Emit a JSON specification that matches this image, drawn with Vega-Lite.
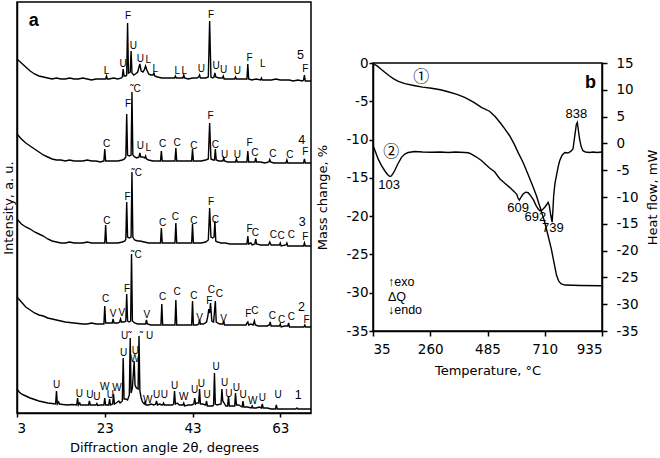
{
"$schema":"https://vega.github.io/schema/vega-lite/v6.json",
"padding":{"left":1,"top":1,"right":0,"bottom":0},
"spacing":0,
"config":{"view":{"stroke":"black","strokeWidth":1.5},"axis":{"grid":false,"domainColor":"black","domainWidth":1.5,"tickColor":"black","tickWidth":1.5,"labelColor":"black","titleColor":"black","labelFont":"DejaVu Sans","titleFont":"DejaVu Sans","labelFontSize":13.5,"titleFontSize":13,"titleFontWeight":"normal"}},
"datasets":{
"xrd":[
{"s":5,"x":3,"y":354},{"s":5,"x":3.5,"y":352},{"s":5,"x":4,"y":350},{"s":5,"x":5,"y":346},{"s":5,"x":6,"y":342},{"s":5,"x":7,"y":339},{"s":5,"x":8,"y":337},{"s":5,"x":9,"y":336},{"s":5,"x":10,"y":335},{"s":5,"x":11,"y":334},{"s":5,"x":12,"y":335},{"s":5,"x":13,"y":334},{"s":5,"x":14,"y":334},{"s":5,"x":15,"y":335},{"s":5,"x":16,"y":334},{"s":5,"x":17,"y":334},{"s":5,"x":18,"y":335},{"s":5,"x":19,"y":334},{"s":5,"x":20,"y":333},{"s":5,"x":21,"y":334},{"s":5,"x":22,"y":334},{"s":5,"x":23.2,"y":334},{"s":5,"x":23.4,"y":337},{"s":5,"x":23.6,"y":334},{"s":5,"x":24,"y":334},{"s":5,"x":25,"y":335},{"s":5,"x":26,"y":334},{"s":5,"x":26.8,"y":335},{"s":5,"x":27,"y":336},{"s":5,"x":27.2,"y":344},{"s":5,"x":27.4,"y":337},{"s":5,"x":27.8,"y":337},{"s":5,"x":28,"y":338},{"s":5,"x":28.2,"y":390},{"s":5,"x":28.4,"y":340},{"s":5,"x":28.8,"y":341},{"s":5,"x":29,"y":362},{"s":5,"x":29.2,"y":340},{"s":5,"x":29.6,"y":338},{"s":5,"x":30,"y":339},{"s":5,"x":30.5,"y":341},{"s":5,"x":31,"y":349},{"s":5,"x":31.3,"y":342},{"s":5,"x":31.7,"y":341},{"s":5,"x":32,"y":343},{"s":5,"x":32.3,"y":347},{"s":5,"x":32.6,"y":343},{"s":5,"x":33,"y":339},{"s":5,"x":33.5,"y":338},{"s":5,"x":34,"y":338},{"s":5,"x":34.2,"y":340},{"s":5,"x":34.4,"y":337},{"s":5,"x":35,"y":336},{"s":5,"x":36,"y":335},{"s":5,"x":37,"y":335},{"s":5,"x":38,"y":335},{"s":5,"x":38.9,"y":335},{"s":5,"x":39.1,"y":337},{"s":5,"x":39.3,"y":335},{"s":5,"x":40,"y":335},{"s":5,"x":40.8,"y":335},{"s":5,"x":41,"y":338},{"s":5,"x":41.2,"y":335},{"s":5,"x":42,"y":334},{"s":5,"x":43,"y":335},{"s":5,"x":44,"y":335},{"s":5,"x":44.4,"y":336},{"s":5,"x":44.6,"y":338},{"s":5,"x":44.8,"y":335},{"s":5,"x":45.5,"y":335},{"s":5,"x":46,"y":335},{"s":5,"x":46.6,"y":336},{"s":5,"x":46.9,"y":392},{"s":5,"x":47.2,"y":336},{"s":5,"x":47.6,"y":335},{"s":5,"x":47.9,"y":336},{"s":5,"x":48.1,"y":340},{"s":5,"x":48.3,"y":336},{"s":5,"x":49,"y":335},{"s":5,"x":49.8,"y":335},{"s":5,"x":50,"y":337},{"s":5,"x":50.2,"y":334},{"s":5,"x":51,"y":334},{"s":5,"x":52,"y":334},{"s":5,"x":52.6,"y":334},{"s":5,"x":52.8,"y":336},{"s":5,"x":53,"y":334},{"s":5,"x":54,"y":334},{"s":5,"x":55,"y":334},{"s":5,"x":55.4,"y":334},{"s":5,"x":55.6,"y":349},{"s":5,"x":55.8,"y":334},{"s":5,"x":56.5,"y":333},{"s":5,"x":57.5,"y":334},{"s":5,"x":58.5,"y":333},{"s":5,"x":58.7,"y":335},{"s":5,"x":58.9,"y":333},{"s":5,"x":60,"y":333},{"s":5,"x":61,"y":333},{"s":5,"x":62,"y":334},{"s":5,"x":63,"y":333},{"s":5,"x":64,"y":333},{"s":5,"x":65,"y":333},{"s":5,"x":66,"y":332},{"s":5,"x":67,"y":333},{"s":5,"x":68,"y":332},{"s":5,"x":68.3,"y":333},{"s":5,"x":68.5,"y":338},{"s":5,"x":68.7,"y":332},{"s":5,"x":69,"y":332},{"s":5,"x":70,"y":332},
{"s":4,"x":3,"y":279},{"s":4,"x":4,"y":274},{"s":4,"x":5,"y":270},{"s":4,"x":6,"y":267},{"s":4,"x":7,"y":264},{"s":4,"x":8,"y":261},{"s":4,"x":9,"y":258},{"s":4,"x":10,"y":256},{"s":4,"x":11,"y":254},{"s":4,"x":12,"y":253},{"s":4,"x":13,"y":253},{"s":4,"x":14,"y":252},{"s":4,"x":15,"y":253},{"s":4,"x":16,"y":252},{"s":4,"x":17,"y":252},{"s":4,"x":18,"y":252},{"s":4,"x":19,"y":253},{"s":4,"x":20,"y":252},{"s":4,"x":21,"y":252},{"s":4,"x":22,"y":251},{"s":4,"x":22.8,"y":252},{"s":4,"x":23,"y":264},{"s":4,"x":23.2,"y":252},{"s":4,"x":24,"y":252},{"s":4,"x":25,"y":252},{"s":4,"x":26,"y":252},{"s":4,"x":27,"y":253},{"s":4,"x":27.5,"y":254},{"s":4,"x":27.8,"y":256},{"s":4,"x":28,"y":299},{"s":4,"x":28.2,"y":258},{"s":4,"x":28.6,"y":257},{"s":4,"x":29,"y":258},{"s":4,"x":29.2,"y":321},{"s":4,"x":29.4,"y":258},{"s":4,"x":29.8,"y":256},{"s":4,"x":30.3,"y":255},{"s":4,"x":30.8,"y":256},{"s":4,"x":31,"y":260},{"s":4,"x":31.2,"y":256},{"s":4,"x":31.7,"y":256},{"s":4,"x":32.1,"y":255},{"s":4,"x":32.3,"y":257},{"s":4,"x":32.5,"y":254},{"s":4,"x":33,"y":253},{"s":4,"x":34,"y":252},{"s":4,"x":35,"y":252},{"s":4,"x":35.7,"y":252},{"s":4,"x":35.9,"y":262},{"s":4,"x":36.1,"y":252},{"s":4,"x":37,"y":252},{"s":4,"x":38,"y":252},{"s":4,"x":39,"y":252},{"s":4,"x":39.2,"y":265},{"s":4,"x":39.4,"y":252},{"s":4,"x":40,"y":252},{"s":4,"x":41,"y":252},{"s":4,"x":42,"y":252},{"s":4,"x":42.8,"y":252},{"s":4,"x":43,"y":264},{"s":4,"x":43.2,"y":252},{"s":4,"x":44,"y":252},{"s":4,"x":45,"y":252},{"s":4,"x":46,"y":253},{"s":4,"x":46.6,"y":254},{"s":4,"x":46.9,"y":290},{"s":4,"x":47.2,"y":254},{"s":4,"x":47.7,"y":253},{"s":4,"x":48,"y":253},{"s":4,"x":48.2,"y":264},{"s":4,"x":48.4,"y":253},{"s":4,"x":49,"y":252},{"s":4,"x":49.9,"y":252},{"s":4,"x":50.1,"y":255},{"s":4,"x":50.3,"y":252},{"s":4,"x":51,"y":251},{"s":4,"x":52,"y":251},{"s":4,"x":52.8,"y":251},{"s":4,"x":53,"y":254},{"s":4,"x":53.2,"y":251},{"s":4,"x":54,"y":251},{"s":4,"x":55,"y":251},{"s":4,"x":55.4,"y":251},{"s":4,"x":55.6,"y":262},{"s":4,"x":55.8,"y":251},{"s":4,"x":56.5,"y":251},{"s":4,"x":57.2,"y":251},{"s":4,"x":57.4,"y":255},{"s":4,"x":57.6,"y":251},{"s":4,"x":58.5,"y":251},{"s":4,"x":59.5,"y":250},{"s":4,"x":60.4,"y":251},{"s":4,"x":60.6,"y":253.5},{"s":4,"x":60.8,"y":251},{"s":4,"x":61.5,"y":250},{"s":4,"x":62.5,"y":250},{"s":4,"x":63.5,"y":250},{"s":4,"x":64.3,"y":250},{"s":4,"x":64.5,"y":253},{"s":4,"x":64.7,"y":250},{"s":4,"x":65.5,"y":250},{"s":4,"x":66.5,"y":250},{"s":4,"x":67.5,"y":250},{"s":4,"x":68.3,"y":250},{"s":4,"x":68.5,"y":254},{"s":4,"x":68.7,"y":250},{"s":4,"x":69.3,"y":250},{"s":4,"x":70,"y":250},
{"s":3,"x":3,"y":194},{"s":3,"x":4,"y":189},{"s":3,"x":5,"y":186},{"s":3,"x":6,"y":184},{"s":3,"x":7,"y":181},{"s":3,"x":8,"y":179},{"s":3,"x":9,"y":177},{"s":3,"x":10,"y":174},{"s":3,"x":11,"y":172},{"s":3,"x":12,"y":171},{"s":3,"x":13,"y":170},{"s":3,"x":14,"y":170},{"s":3,"x":15,"y":171},{"s":3,"x":16,"y":170},{"s":3,"x":17,"y":170},{"s":3,"x":18,"y":170},{"s":3,"x":19,"y":171},{"s":3,"x":20,"y":170},{"s":3,"x":21,"y":170},{"s":3,"x":22,"y":170},{"s":3,"x":23,"y":170},{"s":3,"x":23.2,"y":188},{"s":3,"x":23.4,"y":170},{"s":3,"x":24,"y":170},{"s":3,"x":25,"y":170},{"s":3,"x":26,"y":170},{"s":3,"x":27,"y":171},{"s":3,"x":27.6,"y":172},{"s":3,"x":27.8,"y":174},{"s":3,"x":28,"y":211},{"s":3,"x":28.2,"y":176},{"s":3,"x":28.6,"y":175},{"s":3,"x":29,"y":176},{"s":3,"x":29.2,"y":241},{"s":3,"x":29.4,"y":176},{"s":3,"x":29.8,"y":173},{"s":3,"x":30.5,"y":172},{"s":3,"x":31,"y":172},{"s":3,"x":32,"y":171},{"s":3,"x":33,"y":170},{"s":3,"x":34,"y":170},{"s":3,"x":35,"y":170},{"s":3,"x":35.7,"y":170},{"s":3,"x":35.9,"y":185},{"s":3,"x":36.1,"y":170},{"s":3,"x":37,"y":170},{"s":3,"x":38,"y":170},{"s":3,"x":39,"y":170},{"s":3,"x":39.2,"y":190},{"s":3,"x":39.4,"y":170},{"s":3,"x":40,"y":170},{"s":3,"x":41,"y":170},{"s":3,"x":42,"y":170},{"s":3,"x":42.8,"y":170},{"s":3,"x":43,"y":189},{"s":3,"x":43.2,"y":170},{"s":3,"x":44,"y":170},{"s":3,"x":45,"y":170},{"s":3,"x":46,"y":171},{"s":3,"x":46.6,"y":173},{"s":3,"x":46.9,"y":205},{"s":3,"x":47.2,"y":176},{"s":3,"x":47.6,"y":175},{"s":3,"x":47.9,"y":176},{"s":3,"x":48.1,"y":192},{"s":3,"x":48.3,"y":172},{"s":3,"x":48.7,"y":171},{"s":3,"x":49.5,"y":170},{"s":3,"x":50.5,"y":170},{"s":3,"x":51.5,"y":169},{"s":3,"x":52.5,"y":169},{"s":3,"x":53.5,"y":169},{"s":3,"x":54.5,"y":169},{"s":3,"x":55.4,"y":169},{"s":3,"x":55.6,"y":177},{"s":3,"x":55.8,"y":169},{"s":3,"x":56.3,"y":170},{"s":3,"x":56.6,"y":168},{"s":3,"x":57.2,"y":169},{"s":3,"x":57.4,"y":174},{"s":3,"x":57.6,"y":169},{"s":3,"x":58.5,"y":168},{"s":3,"x":59.5,"y":168},{"s":3,"x":60.3,"y":168},{"s":3,"x":60.6,"y":171},{"s":3,"x":60.9,"y":168},{"s":3,"x":61.8,"y":168},{"s":3,"x":62.8,"y":168},{"s":3,"x":63,"y":170},{"s":3,"x":63.2,"y":167},{"s":3,"x":64.3,"y":168},{"s":3,"x":64.5,"y":170},{"s":3,"x":64.7,"y":167},{"s":3,"x":65.5,"y":167},{"s":3,"x":66.5,"y":167},{"s":3,"x":67.5,"y":167},{"s":3,"x":68.3,"y":167},{"s":3,"x":68.5,"y":170},{"s":3,"x":68.7,"y":167},{"s":3,"x":69.3,"y":167},{"s":3,"x":70,"y":167},
{"s":2,"x":3,"y":116},{"s":2,"x":4,"y":111},{"s":2,"x":5,"y":106},{"s":2,"x":6,"y":103},{"s":2,"x":7,"y":100},{"s":2,"x":8,"y":98},{"s":2,"x":9,"y":97},{"s":2,"x":10,"y":95},{"s":2,"x":11,"y":94},{"s":2,"x":12,"y":93},{"s":2,"x":13,"y":92},{"s":2,"x":14,"y":91},{"s":2,"x":15,"y":90.5},{"s":2,"x":16,"y":90},{"s":2,"x":17,"y":89.5},{"s":2,"x":18,"y":89},{"s":2,"x":19,"y":89},{"s":2,"x":20,"y":90},{"s":2,"x":21,"y":89},{"s":2,"x":22,"y":89},{"s":2,"x":22.8,"y":89},{"s":2,"x":23,"y":107},{"s":2,"x":23.2,"y":90},{"s":2,"x":24,"y":90},{"s":2,"x":24.7,"y":90},{"s":2,"x":24.9,"y":94},{"s":2,"x":25.1,"y":90},{"s":2,"x":26,"y":90},{"s":2,"x":26.4,"y":91},{"s":2,"x":26.6,"y":94},{"s":2,"x":26.8,"y":91},{"s":2,"x":27.4,"y":91},{"s":2,"x":27.8,"y":92},{"s":2,"x":28,"y":119},{"s":2,"x":28.2,"y":92},{"s":2,"x":28.6,"y":91},{"s":2,"x":28.9,"y":92},{"s":2,"x":29.1,"y":159},{"s":2,"x":29.3,"y":92},{"s":2,"x":29.8,"y":90},{"s":2,"x":30.5,"y":89},{"s":2,"x":31.5,"y":89},{"s":2,"x":32.3,"y":89},{"s":2,"x":32.5,"y":93},{"s":2,"x":32.7,"y":89},{"s":2,"x":33.5,"y":88},{"s":2,"x":34.5,"y":88},{"s":2,"x":35.5,"y":88},{"s":2,"x":35.8,"y":88},{"s":2,"x":36,"y":109},{"s":2,"x":36.2,"y":88},{"s":2,"x":37,"y":88},{"s":2,"x":38,"y":88},{"s":2,"x":39,"y":88},{"s":2,"x":39.2,"y":113},{"s":2,"x":39.4,"y":88},{"s":2,"x":40,"y":88},{"s":2,"x":41,"y":88},{"s":2,"x":42,"y":88},{"s":2,"x":42.8,"y":88},{"s":2,"x":43,"y":112},{"s":2,"x":43.2,"y":88},{"s":2,"x":44,"y":88},{"s":2,"x":44.4,"y":89},{"s":2,"x":44.6,"y":93},{"s":2,"x":44.8,"y":89},{"s":2,"x":45.5,"y":89},{"s":2,"x":46.2,"y":91},{"s":2,"x":46.5,"y":97},{"s":2,"x":46.7,"y":104},{"s":2,"x":46.9,"y":100},{"s":2,"x":47.1,"y":110},{"s":2,"x":47.4,"y":92},{"s":2,"x":47.8,"y":91},{"s":2,"x":48.2,"y":112},{"s":2,"x":48.4,"y":91},{"s":2,"x":49.2,"y":89},{"s":2,"x":49.9,"y":89},{"s":2,"x":50.1,"y":92},{"s":2,"x":50.3,"y":88},{"s":2,"x":51,"y":88},{"s":2,"x":52,"y":88},{"s":2,"x":53,"y":88},{"s":2,"x":54,"y":88},{"s":2,"x":55.2,"y":88},{"s":2,"x":55.4,"y":90},{"s":2,"x":55.6,"y":91},{"s":2,"x":55.8,"y":88},{"s":2,"x":56.3,"y":89},{"s":2,"x":56.8,"y":88},{"s":2,"x":57.1,"y":92},{"s":2,"x":57.3,"y":88},{"s":2,"x":58,"y":87},{"s":2,"x":59,"y":87},{"s":2,"x":60,"y":87},{"s":2,"x":60.5,"y":88},{"s":2,"x":60.7,"y":91},{"s":2,"x":60.9,"y":87},{"s":2,"x":61.8,"y":87},{"s":2,"x":62.8,"y":87},{"s":2,"x":63,"y":89},{"s":2,"x":63.2,"y":86},{"s":2,"x":64,"y":87},{"s":2,"x":64.7,"y":87},{"s":2,"x":64.9,"y":90},{"s":2,"x":65.1,"y":86},{"s":2,"x":66,"y":86},{"s":2,"x":67,"y":86},{"s":2,"x":68,"y":86},{"s":2,"x":68.4,"y":86},{"s":2,"x":68.6,"y":88},{"s":2,"x":68.8,"y":86},{"s":2,"x":69.5,"y":86},{"s":2,"x":70,"y":86},
{"s":1,"x":3,"y":24},{"s":1,"x":3.5,"y":21},{"s":1,"x":4,"y":19},{"s":1,"x":5,"y":17},{"s":1,"x":6,"y":15},{"s":1,"x":7,"y":13.5},{"s":1,"x":8,"y":12},{"s":1,"x":9,"y":11},{"s":1,"x":10,"y":10},{"s":1,"x":11,"y":9.5},{"s":1,"x":11.8,"y":9},{"s":1,"x":12,"y":22},{"s":1,"x":12.2,"y":9},{"s":1,"x":12.5,"y":11},{"s":1,"x":12.7,"y":9},{"s":1,"x":13.5,"y":8.5},{"s":1,"x":14.5,"y":8},{"s":1,"x":15.5,"y":8.5},{"s":1,"x":16.6,"y":8},{"s":1,"x":16.8,"y":15},{"s":1,"x":17,"y":8},{"s":1,"x":17.3,"y":10},{"s":1,"x":17.5,"y":8},{"s":1,"x":18.5,"y":8},{"s":1,"x":19.3,"y":8},{"s":1,"x":19.5,"y":12},{"s":1,"x":19.7,"y":8},{"s":1,"x":20.3,"y":8},{"s":1,"x":21,"y":8},{"s":1,"x":21.2,"y":9.5},{"s":1,"x":21.4,"y":7.5},{"s":1,"x":22,"y":8},{"s":1,"x":22.8,"y":8},{"s":1,"x":23,"y":15},{"s":1,"x":23.2,"y":8},{"s":1,"x":23.6,"y":8},{"s":1,"x":23.9,"y":8},{"s":1,"x":24.1,"y":14},{"s":1,"x":24.3,"y":8},{"s":1,"x":24.8,"y":9},{"s":1,"x":25,"y":19},{"s":1,"x":25.2,"y":9},{"s":1,"x":25.6,"y":10},{"s":1,"x":26.2,"y":12},{"s":1,"x":26.5,"y":10},{"s":1,"x":27,"y":12},{"s":1,"x":27.2,"y":55},{"s":1,"x":27.4,"y":14},{"s":1,"x":27.8,"y":14},{"s":1,"x":28.2,"y":13},{"s":1,"x":28.6,"y":18},{"s":1,"x":28.8,"y":75},{"s":1,"x":29,"y":20},{"s":1,"x":29.3,"y":25},{"s":1,"x":29.7,"y":52},{"s":1,"x":29.9,"y":28},{"s":1,"x":30.2,"y":25},{"s":1,"x":30.6,"y":24},{"s":1,"x":30.8,"y":77},{"s":1,"x":31,"y":22},{"s":1,"x":31.3,"y":15},{"s":1,"x":31.6,"y":11},{"s":1,"x":32,"y":9},{"s":1,"x":32.2,"y":11},{"s":1,"x":32.4,"y":8},{"s":1,"x":33,"y":8},{"s":1,"x":33.5,"y":9},{"s":1,"x":34.2,"y":8},{"s":1,"x":34.6,"y":9},{"s":1,"x":34.8,"y":12},{"s":1,"x":35,"y":8},{"s":1,"x":35.5,"y":9},{"s":1,"x":36,"y":8},{"s":1,"x":36.2,"y":8},{"s":1,"x":36.4,"y":10},{"s":1,"x":36.6,"y":8},{"s":1,"x":37.5,"y":8},{"s":1,"x":38.4,"y":8},{"s":1,"x":38.7,"y":9},{"s":1,"x":38.9,"y":22},{"s":1,"x":39.1,"y":9},{"s":1,"x":39.5,"y":10},{"s":1,"x":40,"y":8},{"s":1,"x":40.8,"y":8},{"s":1,"x":41,"y":10},{"s":1,"x":41.2,"y":7},{"s":1,"x":42,"y":8},{"s":1,"x":42.8,"y":8},{"s":1,"x":43.3,"y":9},{"s":1,"x":43.5,"y":15},{"s":1,"x":43.7,"y":9},{"s":1,"x":44,"y":10},{"s":1,"x":44.4,"y":10},{"s":1,"x":44.6,"y":24},{"s":1,"x":44.8,"y":9},{"s":1,"x":45.3,"y":9},{"s":1,"x":46,"y":8},{"s":1,"x":46.2,"y":12},{"s":1,"x":46.4,"y":7},{"s":1,"x":47,"y":7},{"s":1,"x":47.6,"y":7},{"s":1,"x":47.8,"y":8},{"s":1,"x":48,"y":40},{"s":1,"x":48.2,"y":9},{"s":1,"x":48.6,"y":8},{"s":1,"x":49.5,"y":9},{"s":1,"x":49.7,"y":24},{"s":1,"x":49.9,"y":12},{"s":1,"x":50.2,"y":10},{"s":1,"x":50.6,"y":7},{"s":1,"x":51,"y":7},{"s":1,"x":51.2,"y":17},{"s":1,"x":51.4,"y":7},{"s":1,"x":52,"y":7},{"s":1,"x":52.6,"y":7},{"s":1,"x":52.8,"y":20},{"s":1,"x":53,"y":8},{"s":1,"x":53.5,"y":8},{"s":1,"x":54.3,"y":6},{"s":1,"x":54.5,"y":12},{"s":1,"x":54.7,"y":6},{"s":1,"x":55.5,"y":6},{"s":1,"x":56.4,"y":5},{"s":1,"x":56.6,"y":7},{"s":1,"x":56.8,"y":5},{"s":1,"x":57.5,"y":5},{"s":1,"x":58.2,"y":6},{"s":1,"x":58.7,"y":5},{"s":1,"x":58.9,"y":9},{"s":1,"x":59.1,"y":5},{"s":1,"x":60,"y":5},{"s":1,"x":61,"y":4},{"s":1,"x":61.9,"y":4},{"s":1,"x":62.1,"y":8},{"s":1,"x":62.3,"y":4},{"s":1,"x":63.5,"y":4},{"s":1,"x":64.5,"y":4},{"s":1,"x":65.5,"y":4},{"s":1,"x":66.5,"y":4},{"s":1,"x":66.8,"y":5},{"s":1,"x":67,"y":4},{"s":1,"x":68,"y":4},{"s":1,"x":69,"y":4},{"s":1,"x":70,"y":4}
],
"lab":[
{"x":23.4,"y":342,"t":"L"},{"x":27.2,"y":349,"t":"U"},{"x":28.3,"y":397,"t":"F"},{"x":29.5,"y":367,"t":"U"},{"x":31.1,"y":354,"t":"U"},{"x":32.9,"y":353,"t":"L"},{"x":34.5,"y":344,"t":"L"},{"x":39.5,"y":342,"t":"L"},{"x":41.1,"y":342,"t":"L"},{"x":45.0,"y":344,"t":"U"},{"x":47.2,"y":398,"t":"F"},{"x":48.4,"y":347,"t":"U"},{"x":50.1,"y":343,"t":"U"},{"x":53.2,"y":342,"t":"U"},{"x":56.0,"y":355,"t":"F"},{"x":59.0,"y":349,"t":"L"},{"x":68.7,"y":344,"t":"F"},
{"x":23.4,"y":269,"t":"C"},{"x":28.3,"y":309,"t":"F"},{"x":30.0,"y":324,"t":"˜C"},{"x":31.1,"y":267,"t":"U"},{"x":32.9,"y":265,"t":"L"},{"x":36.2,"y":269,"t":"C"},{"x":39.5,"y":270,"t":"C"},{"x":43.3,"y":267,"t":"C"},{"x":47.1,"y":297,"t":"F"},{"x":48.2,"y":268,"t":"C"},{"x":50.3,"y":258,"t":"U"},{"x":53.2,"y":258,"t":"U"},{"x":56.0,"y":270,"t":"F"},{"x":57.2,"y":260,"t":"C"},{"x":61.3,"y":259,"t":"C"},{"x":65.2,"y":258,"t":"C"},{"x":68.7,"y":261,"t":"F"},
{"x":23.5,"y":192,"t":"C"},{"x":28.2,"y":216,"t":"F"},{"x":30.3,"y":240,"t":"˜C"},{"x":36.2,"y":190,"t":"C"},{"x":39.1,"y":196,"t":"C"},{"x":43.3,"y":192,"t":"C"},{"x":47.2,"y":211,"t":"F"},{"x":48.2,"y":193,"t":"C"},{"x":56.0,"y":184,"t":"F"},{"x":57.3,"y":180,"t":"C"},{"x":61.4,"y":178,"t":"C"},{"x":63.2,"y":177,"t":"C"},{"x":65.5,"y":178,"t":"C"},{"x":68.7,"y":176,"t":"F"},
{"x":23.2,"y":114,"t":"C"},{"x":24.9,"y":99,"t":"V"},{"x":26.9,"y":100,"t":"V"},{"x":28.1,"y":124,"t":"F"},{"x":30.2,"y":158,"t":"˜C"},{"x":32.6,"y":98,"t":"V"},{"x":36.2,"y":116,"t":"C"},{"x":39.5,"y":121,"t":"C"},{"x":43.3,"y":117,"t":"C"},{"x":44.6,"y":95,"t":"V"},{"x":46.8,"y":112,"t":"F"},{"x":47.3,"y":123,"t":"C"},{"x":49.1,"y":119,"t":"C"},{"x":50.1,"y":94,"t":"V"},{"x":55.7,"y":99,"t":"F"},{"x":57.2,"y":102,"t":"C"},{"x":61.2,"y":97,"t":"C"},{"x":63.3,"y":93,"t":"C"},{"x":65.5,"y":96,"t":"C"},{"x":69.0,"y":93,"t":"F"},
{"x":12.0,"y":28,"t":"U"},{"x":17.2,"y":19,"t":"U"},{"x":19.6,"y":18,"t":"U"},{"x":21.2,"y":16,"t":"U"},{"x":23.0,"y":26,"t":"W"},{"x":24.3,"y":18,"t":"U"},{"x":25.8,"y":25,"t":"W"},{"x":27.3,"y":60,"t":"U"},{"x":27.9,"y":77,"t":"U˜"},{"x":30.0,"y":62,"t":"U"},{"x":29.8,"y":54,"t":"W"},{"x":32.5,"y":77,"t":"˜ U"},{"x":32.8,"y":13,"t":"W"},{"x":34.8,"y":18,"t":"U"},{"x":36.6,"y":18,"t":"U"},{"x":38.9,"y":27,"t":"U"},{"x":41.0,"y":16,"t":"W"},{"x":43.5,"y":23,"t":"U"},{"x":45.0,"y":29,"t":"U"},{"x":46.3,"y":18,"t":"U"},{"x":48.4,"y":46,"t":"U"},{"x":50.3,"y":30,"t":"U"},{"x":51.3,"y":19,"t":"U"},{"x":53.0,"y":25,"t":"U"},{"x":54.5,"y":18,"t":"U"},{"x":56.7,"y":12,"t":"W"},{"x":58.9,"y":15,"t":"U"},{"x":62.5,"y":18,"t":"U"}
],
"num":[{"x":67.6,"y":358,"t":"5"},{"x":67.9,"y":273,"t":"4"},{"x":68.0,"y":191,"t":"3"},{"x":67.8,"y":106,"t":"2"},{"x":67.1,"y":18,"t":"1"}],
"pa":[{"x":6.8,"y":387,"t":"a"}],
"tg":[{"T":35,"m":-0.1},{"T":50,"m":-0.35},{"T":68,"m":-0.85},{"T":85,"m":-1.3},{"T":100,"m":-1.7},{"T":118,"m":-2.1},{"T":135,"m":-2.4},{"T":160,"m":-2.7},{"T":200,"m":-2.97},{"T":230,"m":-3.15},{"T":265,"m":-3.3},{"T":300,"m":-3.5},{"T":330,"m":-3.75},{"T":365,"m":-4.1},{"T":395,"m":-4.5},{"T":430,"m":-5.1},{"T":461,"m":-5.8},{"T":493,"m":-6.3},{"T":515,"m":-7.0},{"T":535,"m":-7.8},{"T":553,"m":-8.6},{"T":572,"m":-9.5},{"T":590,"m":-10.6},{"T":607,"m":-11.8},{"T":625,"m":-13.0},{"T":645,"m":-14.6},{"T":662,"m":-16.0},{"T":677,"m":-17.3},{"T":695,"m":-19.2},{"T":710,"m":-20.8},{"T":722,"m":-22.4},{"T":736,"m":-24.3},{"T":746,"m":-26.0},{"T":756,"m":-27.7},{"T":765,"m":-28.5},{"T":775,"m":-28.85},{"T":790,"m":-29.0},{"T":850,"m":-29.05},{"T":935,"m":-29.1}],
"dsc":[{"T":35,"hf":-0.4},{"T":45,"hf":-1.6},{"T":55,"hf":-2.9},{"T":68,"hf":-4.1},{"T":81,"hf":-5.1},{"T":92,"hf":-5.8},{"T":100,"hf":-6.15},{"T":106,"hf":-6.1},{"T":113,"hf":-5.7},{"T":120,"hf":-5.1},{"T":133,"hf":-3.8},{"T":147,"hf":-2.6},{"T":160,"hf":-2.0},{"T":173,"hf":-1.7},{"T":199,"hf":-1.5},{"T":230,"hf":-1.6},{"T":265,"hf":-1.65},{"T":300,"hf":-1.6},{"T":330,"hf":-1.7},{"T":360,"hf":-1.6},{"T":395,"hf":-1.7},{"T":410,"hf":-1.75},{"T":422,"hf":-2.0},{"T":440,"hf":-2.5},{"T":461,"hf":-3.2},{"T":493,"hf":-4.6},{"T":513,"hf":-5.3},{"T":533,"hf":-6.6},{"T":552,"hf":-7.4},{"T":572,"hf":-8.2},{"T":590,"hf":-9.0},{"T":600,"hf":-9.5},{"T":605,"hf":-10.2},{"T":610,"hf":-10.6},{"T":617,"hf":-10.0},{"T":625,"hf":-9.45},{"T":635,"hf":-9.1},{"T":645,"hf":-9.2},{"T":655,"hf":-9.8},{"T":665,"hf":-10.5},{"T":677,"hf":-11.7},{"T":685,"hf":-12.3},{"T":692,"hf":-12.6},{"T":700,"hf":-12.4},{"T":710,"hf":-11.9},{"T":718,"hf":-11.4},{"T":723,"hf":-11.0},{"T":728,"hf":-11.6},{"T":734,"hf":-13.5},{"T":739,"hf":-14.7},{"T":742,"hf":-12.5},{"T":745,"hf":-9.8},{"T":750,"hf":-7.5},{"T":756,"hf":-6.0},{"T":763,"hf":-4.3},{"T":769,"hf":-3.2},{"T":778,"hf":-2.2},{"T":789,"hf":-1.7},{"T":801,"hf":-1.8},{"T":812,"hf":-1.5},{"T":821,"hf":-1.05},{"T":828,"hf":1.4},{"T":834,"hf":3.5},{"T":838,"hf":3.9},{"T":842,"hf":2.5},{"T":847,"hf":0.8},{"T":853,"hf":-0.6},{"T":860,"hf":-1.36},{"T":870,"hf":-1.6},{"T":887,"hf":-1.7},{"T":900,"hf":-1.6},{"T":915,"hf":-1.7},{"T":935,"hf":-1.6}],
"rl":[{"T":98,"m":-15.93,"t":"103"},{"T":605,"m":-18.94,"t":"609"},{"T":673,"m":-20.16,"t":"692"},{"T":742,"m":-21.6,"t":"739"},{"T":834,"m":-6.66,"t":"838"}],
"circ":[{"T":225,"m":-1.79,"t":"①"},{"T":107,"m":-11.68,"t":"②"}],
"exo":[{"T":94,"m":-28.65,"t":"↑exo"},{"T":94,"m":-30.5,"t":"ΔQ"},{"T":94,"m":-32.3,"t":"↓endo"}],
"pb":[{"T":890,"m":-3.27,"t":"b"}],
"blank":[{"k":1}]
},
"hconcat":[
{"width":294,"height":411,
 "encoding":{
  "x":{"field":"x","type":"quantitative","scale":{"domain":[3,70],"nice":false,"zero":false},"axis":{"values":[3,23,43,63],"title":"Diffraction angle 2θ, degrees","tickSize":4,"labelPadding":4,"titlePadding":7}},
  "y":{"field":"y","type":"quantitative","scale":{"domain":[0,411],"nice":false,"zero":false},"axis":{"labels":false,"ticks":false,"title":"Intensity, a. u.","titlePadding":2,"minExtent":0,"maxExtent":0}}
 },
 "layer":[
  {"data":{"name":"xrd"},"mark":{"type":"line","color":"black","strokeWidth":1.4},"encoding":{"detail":{"field":"s","type":"nominal"}}},
  {"data":{"name":"lab"},"mark":{"type":"text","font":"Liberation Sans","fontSize":10,"baseline":"middle","color":"black"},"encoding":{"text":{"field":"t"}}},
  {"data":{"name":"num"},"mark":{"type":"text","font":"Liberation Sans","fontSize":12.5,"baseline":"middle","color":"black"},"encoding":{"text":{"field":"t"}}},
  {"data":{"name":"pa"},"mark":{"type":"text","font":"Liberation Sans","fontSize":18,"fontWeight":"bold","baseline":"alphabetic","color":"black"},"encoding":{"text":{"field":"t"}}}
 ]
},
{"spacing":0,
 "vconcat":[
  {"width":229,"height":53,"data":{"name":"blank"},"mark":{"type":"text","text":""},"view":{"stroke":null}},
  {"width":229,"height":268,
   "encoding":{
    "x":{"field":"T","type":"quantitative","scale":{"domain":[35,935],"nice":false,"zero":false},"axis":{"values":[35,260,485,710,935],"title":"Temperature, °C","tickSize":5,"labelPadding":6,"titlePadding":9}}
   },
   "layer":[
    {"data":{"name":"tg"},"mark":{"type":"line","color":"black","strokeWidth":1.4},
     "encoding":{"y":{"field":"m","type":"quantitative","scale":{"domain":[-35,0],"nice":false,"zero":false},"axis":{"orient":"left","values":[0,-5,-10,-15,-20,-25,-30,-35],"title":"Mass change, %","tickSize":4,"labelPadding":1,"minExtent":37,"maxExtent":37,"titlePadding":7,"labelExpr":"replace(datum.label,'−','-')"}}}},
    {"data":{"name":"dsc"},"mark":{"type":"line","color":"black","strokeWidth":1.4},
     "encoding":{"y":{"field":"hf","type":"quantitative","scale":{"domain":[-35,15],"nice":false,"zero":false},"axis":{"orient":"right","values":[15,10,5,0,-5,-10,-15,-20,-25,-30,-35],"title":"Heat flow, mW","titleAngle":270,"titleBaseline":"top","tickSize":5,"labelPadding":9,"minExtent":35,"maxExtent":35,"titlePadding":9,"labelExpr":"replace(datum.label,'−','-')"}}}},
    {"data":{"name":"rl"},"mark":{"type":"text","font":"Liberation Sans","fontSize":13,"baseline":"middle","color":"black"},
     "encoding":{"y":{"field":"m","type":"quantitative","scale":{"domain":[-35,0],"nice":false,"zero":false},"axis":null},"text":{"field":"t"}}},
    {"data":{"name":"circ"},"mark":{"type":"text","font":"Noto Sans CJK SC","fontSize":16,"baseline":"middle","color":"black"},
     "encoding":{"y":{"field":"m","type":"quantitative","scale":{"domain":[-35,0],"nice":false,"zero":false},"axis":null},"text":{"field":"t"}}},
    {"data":{"name":"exo"},"mark":{"type":"text","font":"Liberation Sans","fontSize":12.5,"baseline":"middle","align":"left","color":"black"},
     "encoding":{"y":{"field":"m","type":"quantitative","scale":{"domain":[-35,0],"nice":false,"zero":false},"axis":null},"text":{"field":"t"}}},
    {"data":{"name":"pb"},"mark":{"type":"text","font":"Liberation Sans","fontSize":18,"fontWeight":"bold","baseline":"alphabetic","color":"black"},
     "encoding":{"y":{"field":"m","type":"quantitative","scale":{"domain":[-35,0],"nice":false,"zero":false},"axis":null},"text":{"field":"t"}}}
   ],
   "resolve":{"scale":{"y":"independent"}}
  }
 ]
}
]
}
